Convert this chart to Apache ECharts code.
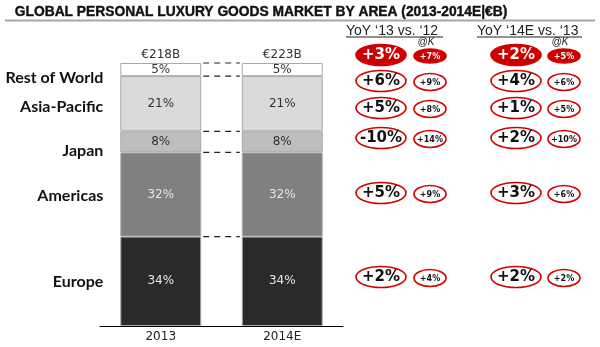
<!DOCTYPE html>
<html>
<head>
<meta charset="utf-8">
<script src="https://cdn.jsdelivr.net/npm/echarts@6/dist/echarts.min.js"></script>
<style>
  html, body { margin: 0; padding: 0; background: #fff; }
  #chart { width: 600px; height: 347px; }
</style>
</head>
<body>
<div id="chart"></div>
<script>
// Market share by area, stacked bottom-up (Europe first)
const years = ['2013', '2014E'];
const regions = ['Europe', 'Americas', 'Japan', 'Asia-Pacific', 'Rest of World'];
const europe = [34, 34];
const americas = [32, 32];
const japan = [8, 8];
const asiaPacific = [21, 21];
const restOfWorld = [5, 5];
const totals = ['€218B', '€223B'];

// Growth badges, rows top-down: total, Rest of World, Asia-Pacific, Japan, Americas, Europe
const yoyHeaders = ['YoY ‘13 vs. ‘12', 'YoY ‘14E vs. ‘13'];
const yoy13 = ['+3%', '+6%', '+5%', '-10%', '+5%', '+2%'];
const yoy13K = ['+7%', '+9%', '+8%', '+14%', '+9%', '+4%'];
const yoy14 = ['+2%', '+4%', '+1%', '+2%', '+3%', '+2%'];
const yoy14K = ['+5%', '+6%', '+5%', '+10%', '+6%', '+2%'];

const shares = [europe, americas, japan, asiaPacific, restOfWorld];
const fills = ['#2a2a2a', '#808080', '#bebebe', '#dadada', '#ffffff'];
const labelInk = ['#e6e6e6', '#e6e6e6', '#333333', '#333333', '#333333'];

// Layout of the badge table
const badgeCols = [{ big: 381, small: 430, header: 346, at: 426 }, { big: 516, small: 564, header: 477, at: 560 }];
const badgeRows = [55, 81, 108, 138, 193, 277];
const labelNudge = { 'Rest of World': 8, 'Asia-Pacific': 3, 'Japan': 9, 'Americas': 1, 'Europe': 1 };
const BAR_HALF = 0.333; // half bar width as a fraction of the category band

// cumulative tops of each stacked segment, per year
const tops = years.map((_, j) => {
  let acc = 0;
  return shares.map(s => (acc += s[j]));
});
const bottoms = years.map((_, j) => tops[j].map((t, i) => t - shares[i][j]));

const barSeries = regions.map((name, i) => ({
  name,
  type: 'bar',
  stack: 'share',
  barWidth: '66.6%',
  data: shares[i],
  itemStyle: { color: fills[i], borderColor: '#a9a9a9', borderWidth: 1 },
  label: {
    show: true,
    position: 'inside',
    formatter: p => p.value + '%',
    fontFamily: 'DejaVu Sans',
    fontSize: 12,
    color: labelInk[i]
  },
  z: 2
}));

// dashed connectors between matching segment edges of the two bars
const connectorSeries = {
  type: 'custom',
  data: regions.map((_, i) => [0, tops[0][i], tops[1][i]]),
  encode: { x: 0, y: 1 },
  z: 5,
  silent: true,
  renderItem(params, api) {
    const a = api.coord([0, api.value(1)]);
    const b = api.coord([1, api.value(2)]);
    const half = api.size([1, 0])[0] * BAR_HALF;
    return {
      type: 'line',
      shape: { x1: a[0] + half + 2, y1: a[1], x2: b[0] - half - 2, y2: b[1] },
      style: { stroke: '#222', lineWidth: 1.2, lineDash: [6, 5] }
    };
  }
};

// totals above each bar
const totalSeries = {
  type: 'custom',
  data: years.map((_, j) => [j, tops[j][regions.length - 1]]),
  encode: { x: 0, y: 1 },
  z: 5,
  silent: true,
  renderItem(params, api) {
    const p = api.coord([api.value(0), api.value(1)]);
    return {
      type: 'text',
      x: p[0],
      y: p[1] - 8,
      style: {
        text: totals[params.dataIndex],
        align: 'center', verticalAlign: 'middle',
        font: '12px "DejaVu Sans"', fill: '#333'
      }
    };
  }
};

// region names to the left of the first bar, beside each segment
const regionLabelSeries = {
  type: 'custom',
  data: regions.map((_, i) => [0, (tops[0][i] + bottoms[0][i]) / 2]),
  encode: { x: 0, y: 1 },
  z: 5,
  silent: true,
  renderItem(params, api) {
    const p = api.coord([0, api.value(1)]);
    const half = api.size([1, 0])[0] * BAR_HALF;
    const name = regions[params.dataIndex];
    return {
      type: 'text',
      x: p[0] - half - 17,
      y: p[1] + labelNudge[name],
      style: {
        text: name,
        align: 'right', verticalAlign: 'middle',
        font: 'bold 16px Lato', fill: '#111'
      }
    };
  }
};

function badge(cx, cy, rx, ry, text, font, solid) {
  return {
    type: 'group',
    children: [
      {
        type: 'ellipse',
        shape: { cx, cy, rx, ry },
        style: { fill: solid ? '#cc0000' : '#ffffff', stroke: '#d40000', lineWidth: 1.6 }
      },
      {
        type: 'text',
        x: cx, y: cy + 0.5,
        style: { text, align: 'center', verticalAlign: 'middle', font, fill: solid ? '#ffffff' : '#111111' }
      }
    ]
  };
}

const graphics = [
  {
    type: 'text', x: 261, y: 12,
    style: {
      text: 'GLOBAL PERSONAL LUXURY GOODS MARKET BY AREA (2013-2014E|€B)',
      align: 'center', verticalAlign: 'middle',
      font: 'bold 13.8px "Liberation Sans"', fill: '#111',
      stroke: '#111', lineWidth: 0.4
    }
  },
  { type: 'line', shape: { x1: 5, y1: 20.5, x2: 595, y2: 20.5 }, style: { stroke: '#a6a6a6', lineWidth: 2 } }
];

const columns = [[yoy13, yoy13K], [yoy14, yoy14K]];
columns.forEach(([big, small], c) => {
  const col = badgeCols[c];
  graphics.push({
    type: 'text', x: col.header, y: 31,
    style: { text: yoyHeaders[c], align: 'left', verticalAlign: 'middle', font: '14px "Liberation Sans"', fill: '#222' }
  });
  graphics.push({
    type: 'line',
    shape: { x1: col.header, y1: 37, x2: col.header + (c === 0 ? 97 : 105), y2: 37 },
    style: { stroke: '#222', lineWidth: 1 }
  });
  graphics.push({
    type: 'text', x: col.at, y: 42,
    style: { text: '@K', align: 'center', verticalAlign: 'middle', font: 'italic 10px "Liberation Sans"', fill: '#222' }
  });
  badgeRows.forEach((y, r) => {
    graphics.push(badge(col.big, y, 25, 10.5, big[r], 'bold 15px "DejaVu Sans"', r === 0));
    graphics.push(badge(col.small, y + 1, 16, r === 0 ? 7 : 8.5, small[r], 'bold 8px "DejaVu Sans"', r === 0));
  });
});

const chart = echarts.init(document.getElementById('chart'), null, { renderer: 'canvas' });
chart.setOption({
  animation: false,
  backgroundColor: '#ffffff',
  grid: { left: 100, right: 257, top: 63, bottom: 21 },
  xAxis: {
    type: 'category',
    data: years,
    axisLine: { show: true, lineStyle: { color: '#000', width: 1 } },
    axisTick: { show: false },
    axisLabel: { fontFamily: 'DejaVu Sans', fontSize: 12, color: '#222', margin: 5 }
  },
  yAxis: { type: 'value', min: 0, max: 100, show: false },
  series: [...barSeries, connectorSeries, totalSeries, regionLabelSeries],
  graphic: graphics
});
</script>
</body>
</html>
